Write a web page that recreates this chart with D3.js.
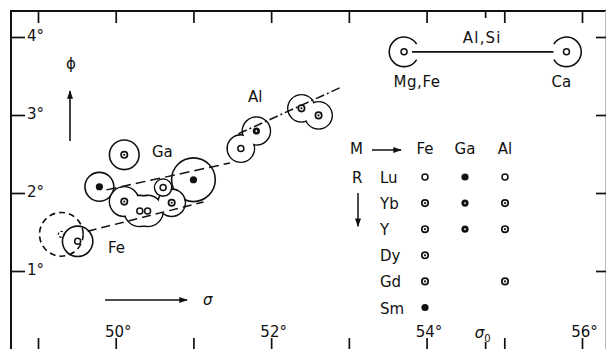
<!DOCTYPE html>
<html><head><meta charset="utf-8">
<script src="https://cdn.jsdelivr.net/npm/d3@7"></script>
<style>
html,body{margin:0;padding:0;background:#fff;}
svg{display:block;}
text{font-family:"DejaVu Sans",sans-serif;font-size:15px;fill:#111;}
</style></head><body>
<svg id="c" width="606" height="349"></svg>
<script>
// ---------- data ----------
const sigmaTicks = [49, 50, 51, 52, 53, 54, 55, 56];
const sigmaLabels = [50, 52, 54, 56];
const phiTicks = [1, 2, 3, 4];
const sigma0 = 54.76;

// circles: sigma, phi, radius (deg), inner mark
const feCircles = [
  {s: 49.30, p: 1.47, r: 0.28, mark: "openDash", dashed: true},
  {s: 49.51, p: 1.38, r: 0.195, mark: "open"}
];
const gaCircles = [
  {s: 50.11, p: 2.49, r: 0.19, mark: "dotted"},
  {s: 49.79, p: 2.08, r: 0.185, mark: "filled"},
  {s: 51.00, p: 2.17, r: 0.28, mark: "filled"}
];
const clusterCircles = [
  {s: 50.11, p: 1.89, r: 0.19, mark: "dotted"},
  {s: 50.31, p: 1.77, r: 0.20, mark: "open"},
  {s: 50.41, p: 1.77, r: 0.20, mark: "open"},
  {s: 50.72, p: 1.875, r: 0.175, mark: "dotted"}
];
const ringCircles = [
  {s: 50.61, p: 2.07, r: 0.11, mark: "open"}
];
const alPairA = [
  {s: 51.61, p: 2.57, r: 0.175, mark: "open"},
  {s: 51.81, p: 2.795, r: 0.18, mark: "heavy"}
];
const alPairB = [
  {s: 52.39, p: 3.085, r: 0.175, mark: "dotted"},
  {s: 52.61, p: 2.995, r: 0.175, mark: "dotted"}
];
const trendLines = [
  {name: "Fe", s0: 49.64, p0: 1.51, s1: 51.13, p1: 1.885},
  {name: "Ga", s0: 49.88, p0: 2.04, s1: 51.47, p1: 2.385},
  {name: "Al", s0: 51.58, p0: 2.76, s1: 52.91, p1: 3.36}
];
const seriesLabels = [
  {text: "Ga", s: 50.467, p: 2.462},
  {text: "Fe", s: 49.90, p: 1.231},
  {text: "Al", s: 51.703, p: 3.167}
];
const sites = [
  {name: "Mg,Fe", s: 53.71, p: 3.81, r: 0.19},
  {name: "Ca", s: 55.80, p: 3.81, r: 0.19}
];
const siteLink = "Al,Si";

const legendCols = ["Fe", "Ga", "Al"];
const legendRows = ["Lu", "Yb", "Y", "Dy", "Gd", "Sm"];
const legendMarks = [
  ["open", "filled", "open"],
  ["dotted", "heavy", "dotted"],
  ["dotted", "heavy", "dotted"],
  ["dotted", null, null],
  ["dotted", null, "dotted"],
  ["filled", null, null]
];

// ---------- drawing ----------
const svg = d3.select("#c");
const ink = "#111";
const x = d3.scaleLinear().domain([49, 56]).range([38, 582]);
const y = d3.scaleLinear().domain([1, 4]).range([271, 37]);
const R = d => y(0) - y(d);

const defs = svg.append("defs");
defs.append("marker").attr("id", "ah").attr("viewBox", "0 0 10 7")
  .attr("refX", 9).attr("refY", 3.5).attr("markerWidth", 10).attr("markerHeight", 6)
  .attr("markerUnits", "userSpaceOnUse").attr("orient", "auto")
  .append("path").attr("d", "M0,0 L10,3.5 L0,7 Z").attr("fill", ink);

// frame
svg.append("path").attr("d", "M11,349 V11 H606").attr("fill", "none")
  .attr("stroke", ink).attr("stroke-width", 2);
svg.append("line").attr("x1", 605.5).attr("x2", 605.5).attr("y1", 11).attr("y2", 349)
  .attr("stroke", "#bbb").attr("stroke-width", 1);

function styleAxis(g) {
  g.select(".domain").remove();
  g.selectAll(".tick line").attr("stroke", ink).attr("stroke-width", 1.7);
  g.selectAll("text").attr("fill", ink).style("font-family", '"DejaVu Sans",sans-serif').style("font-size", "15px");
}
svg.append("g").attr("transform", "translate(0,11)")
  .call(d3.axisBottom(x).tickValues(sigmaTicks).tickSize(12).tickFormat("")).call(styleAxis);
svg.append("g").attr("transform", "translate(0,349)")
  .call(d3.axisTop(x).tickValues(sigmaTicks).tickSize(11).tickFormat("")).call(styleAxis);
const bl = svg.append("g").attr("transform", "translate(2,349)")
  .call(d3.axisTop(x).tickValues(sigmaLabels).tickSize(0).tickPadding(12).tickFormat(d => d + "°")).call(styleAxis);
svg.append("g").attr("transform", "translate(11,0)")
  .call(d3.axisRight(y).tickValues(phiTicks).tickSize(14).tickPadding(2).tickFormat(d => d + "°")).call(styleAxis)
  .selectAll("text").attr("dy", "0.25em");
svg.append("g").attr("transform", "translate(606,0)")
  .call(d3.axisLeft(y).tickValues(phiTicks).tickSize(10).tickFormat("")).call(styleAxis);
// sigma0 short ticks
[[11, 18], [342, 349]].forEach(([a, b]) => {
  svg.append("line").attr("x1", x(sigma0)).attr("x2", x(sigma0)).attr("y1", a).attr("y2", b)
    .attr("stroke", ink).attr("stroke-width", 1.7);
});
const s0t = svg.append("text").attr("x", x(sigma0) - 3).attr("y", 338).attr("text-anchor", "middle");
s0t.append("tspan").text("σ").style("font-style", "italic");
s0t.append("tspan").text("0").attr("dy", 4).style("font-size", "10px");

// axis arrows & symbols
svg.append("line").attr("x1", 70).attr("y1", 141).attr("x2", 70).attr("y2", 91)
  .attr("stroke", ink).attr("stroke-width", 1.6).attr("marker-end", "url(#ah)");
svg.append("text").attr("x", 71).attr("y", 69).attr("text-anchor", "middle").text("ϕ");
svg.append("line").attr("x1", 105).attr("y1", 300).attr("x2", 187).attr("y2", 300)
  .attr("stroke", ink).attr("stroke-width", 1.6).attr("marker-end", "url(#ah)");
svg.append("text").attr("x", 203).attr("y", 305).style("font-style", "italic").text("σ");

// circles
const plot = svg.append("g");
function plainCircles(data) {
  plot.append("g").selectAll("circle").data(data).join("circle")
    .attr("cx", d => x(d.s)).attr("cy", d => y(d.p)).attr("r", d => R(d.r))
    .attr("fill", "none").attr("stroke", ink).attr("stroke-width", 1.6)
    .attr("stroke-dasharray", d => d.dashed ? "6,4" : null);
}
function unionCircles(data) {
  const g = plot.append("g");
  g.selectAll("circle.o").data(data).join("circle").attr("class", "o")
    .attr("cx", d => x(d.s)).attr("cy", d => y(d.p)).attr("r", d => R(d.r))
    .attr("fill", "none").attr("stroke", ink).attr("stroke-width", 1.6);
  g.selectAll("circle.f").data(data).join("circle").attr("class", "f")
    .attr("cx", d => x(d.s)).attr("cy", d => y(d.p)).attr("r", d => R(d.r) - 0.8)
    .attr("fill", "#fff");
}
plainCircles(feCircles);
plainCircles(gaCircles);
unionCircles(clusterCircles);
unionCircles(ringCircles);
unionCircles(alPairA);
unionCircles(alPairB);

// trend lines
const dashFor = {Fe: "9,5", Ga: "10,5", Al: "9,3,2,3"};
plot.append("g").selectAll("line").data(trendLines).join("line")
  .attr("x1", d => x(d.s0)).attr("y1", d => y(d.p0))
  .attr("x2", d => x(d.s1)).attr("y2", d => y(d.p1))
  .attr("stroke", ink).attr("stroke-width", 1.5)
  .attr("stroke-dasharray", d => dashFor[d.name]);

// inner marks
function drawMark(g, cx, cy, type) {
  if (!type) return;
  if (type === "open") {
    g.append("circle").attr("cx", cx).attr("cy", cy).attr("r", 3)
      .attr("fill", "#fff").attr("stroke", ink).attr("stroke-width", 1.5);
  } else if (type === "openDash") {
    g.append("circle").attr("cx", cx).attr("cy", cy).attr("r", 3)
      .attr("fill", "none").attr("stroke", ink).attr("stroke-width", 1.2).attr("stroke-dasharray", "2.5,1.8");
  } else if (type === "filled") {
    g.append("circle").attr("cx", cx).attr("cy", cy).attr("r", 3.6).attr("fill", ink);
  } else if (type === "dotted") {
    g.append("circle").attr("cx", cx).attr("cy", cy).attr("r", 3.2)
      .attr("fill", "#fff").attr("stroke", ink).attr("stroke-width", 1.7);
    g.append("circle").attr("cx", cx).attr("cy", cy).attr("r", 1.1).attr("fill", ink);
  } else if (type === "heavy") {
    g.append("circle").attr("cx", cx).attr("cy", cy).attr("r", 3.6).attr("fill", ink);
    g.append("circle").attr("cx", cx).attr("cy", cy).attr("r", 0.9).attr("fill", "#fff");
  }
}
const marks = plot.append("g");
[].concat(feCircles, gaCircles, clusterCircles, ringCircles, alPairA, alPairB)
  .forEach(d => drawMark(marks, x(d.s), y(d.p), d.mark));

// series labels
svg.append("g").selectAll("text").data(seriesLabels).join("text")
  .attr("x", d => x(d.s)).attr("y", d => y(d.p)).text(d => d.text);

// site legend (top right)
const sg = svg.append("g");
const gaps = [0, Math.PI];
sites.forEach((d, i) => {
  const cx = x(d.s), cy = y(d.p), r = R(d.r), g0 = gaps[i], hw = 0.55;
  const p = d3.path();
  p.arc(cx, cy, r, g0 + hw, g0 - hw + 2 * Math.PI);
  sg.append("path").attr("d", p.toString()).attr("fill", "none").attr("stroke", ink).attr("stroke-width", 1.6);
  drawMark(sg, cx, cy, "open");
});
sg.append("line").attr("x1", x(sites[0].s) + 8).attr("x2", x(sites[1].s) - 13)
  .attr("y1", y(sites[0].p)).attr("y2", y(sites[1].p)).attr("stroke", ink).attr("stroke-width", 1.7);
sg.append("text").attr("x", (x(sites[0].s) + x(sites[1].s)) / 2 - 3).attr("y", y(sites[0].p) - 9)
  .attr("text-anchor", "middle").style("letter-spacing", "1.2px").text(siteLink);
sg.append("text").attr("x", x(sites[0].s) + 13).attr("y", y(sites[0].p) + 35)
  .attr("text-anchor", "middle").style("letter-spacing", "0.6px").text(sites[0].name);
sg.append("text").attr("x", x(sites[1].s) - 5).attr("y", y(sites[1].p) + 35)
  .attr("text-anchor", "middle").text(sites[1].name);

// M/R table legend
const lx = d3.scalePoint().domain(legendCols).range([425, 505]);
const ly = d3.scalePoint().domain(legendRows).range([177, 307.5]);
const lg = svg.append("g");
const topY = ly(legendRows[0]);
lg.append("text").attr("x", 350).attr("y", topY - 23).text("M");
lg.append("line").attr("x1", 372).attr("x2", 401).attr("y1", topY - 27).attr("y2", topY - 27)
  .attr("stroke", ink).attr("stroke-width", 1.5).attr("marker-end", "url(#ah)");
lg.selectAll("text.col").data(legendCols).join("text").attr("class", "col")
  .attr("x", d => lx(d)).attr("y", topY - 23).attr("text-anchor", "middle").text(d => d);
lg.append("text").attr("x", 352).attr("y", topY + 6).text("R");
lg.append("line").attr("x1", 358).attr("x2", 358).attr("y1", topY + 16).attr("y2", ly("Y") - 3)
  .attr("stroke", ink).attr("stroke-width", 1.5).attr("marker-end", "url(#ah)");
lg.selectAll("text.row").data(legendRows).join("text").attr("class", "row")
  .attr("x", 380).attr("y", d => ly(d) + 6).text(d => d);
legendRows.forEach((rn, i) => legendCols.forEach((cn, j) => drawMark(lg, lx(cn), ly(rn), legendMarks[i][j])));
</script>
</body></html>
